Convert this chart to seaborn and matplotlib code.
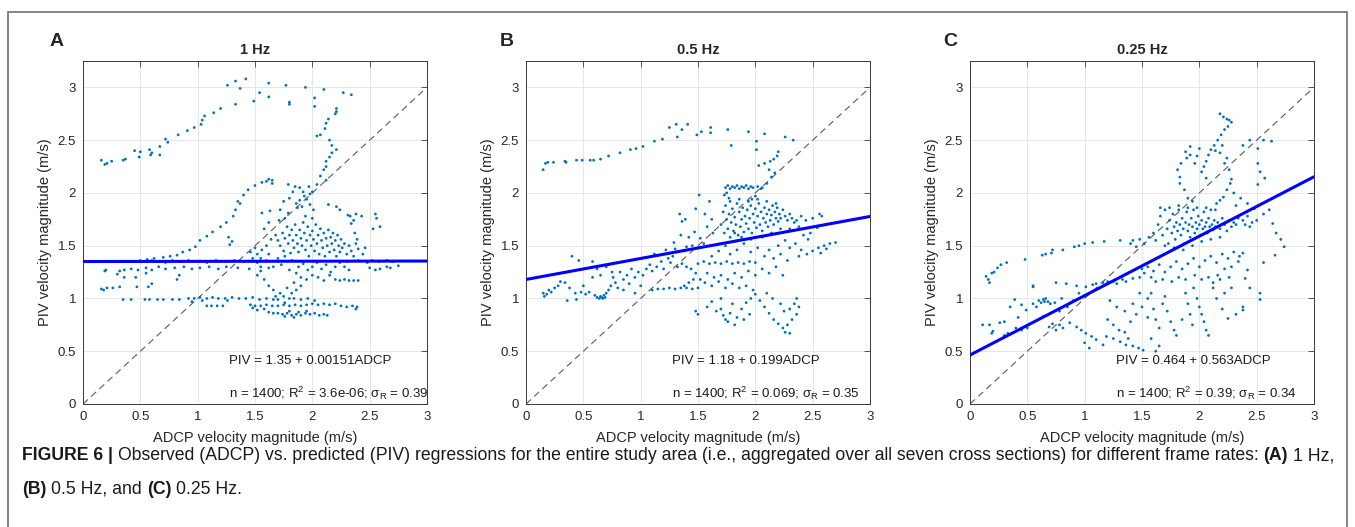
import matplotlib
matplotlib.use("Agg")
import matplotlib.pyplot as plt
import matplotlib.font_manager as fm
from matplotlib.patches import Rectangle
import seaborn as sns
import pandas as pd

# ---------------- data ----------------
panel_letters = ["A", "B", "C"]
panel_titles = ["1 Hz", "0.5 Hz", "0.25 Hz"]
intercepts = [1.35, 1.18, 0.464]
slopes = [0.00151, 0.199, 0.563]
eq_texts = ["PIV = 1.35 + 0.00151ADCP", "PIV = 1.18 + 0.199ADCP", "PIV = 0.464 + 0.563ADCP"]
stat_texts = ["n = 1400; R$^2$ = 3.6e-06; $\\sigma_{\\rm R}$ = 0.39",
              "n = 1400; R$^2$ = 0.069; $\\sigma_{\\rm R}$ = 0.35",
              "n = 1400; R$^2$ = 0.39; $\\sigma_{\\rm R}$ = 0.34"]
tick_vals = [0, 0.5, 1, 1.5, 2, 2.5, 3]
tick_labels = ["0", "0.5", "1", "1.5", "2", "2.5", "3"]
x_label = "ADCP velocity magnitude (m/s)"
y_label = "PIV velocity magnitude (m/s)"

pts_1hz = [
    (0.16,2.31),(0.19,2.27),(0.21,2.28),(0.25,2.30),(0.35,2.31),(0.37,2.32),(0.45,2.40),(0.49,2.34),(0.50,2.39),(0.58,2.41),
    (0.59,2.36),(0.60,2.38),(0.67,2.44),(0.67,2.36),(0.72,2.51),(0.74,2.48),(0.83,2.55),(0.91,2.59),(0.97,2.62),(1.03,2.65),
    (1.04,2.69),(1.06,2.73),(1.14,2.76),(1.20,2.80),
    (1.26,3.02),(1.33,3.06),(1.33,2.84),(1.37,2.99),(1.42,3.08),(1.49,2.87),(1.54,2.95),(1.62,3.04),(1.62,2.91),(1.77,3.02),
    (1.80,2.86),(1.80,2.84),(1.94,3.00),(2.02,2.90),(2.02,2.82),(2.10,2.98),(2.27,2.95),(2.34,2.93),
    (2.21,2.80),(2.21,2.77),(2.20,2.75),(2.14,2.70),(2.12,2.66),(2.11,2.61),(2.04,2.54),(2.07,2.55),(2.15,2.50),(2.17,2.45),
    (2.21,2.41),(2.17,2.38),(2.15,2.34),(2.12,2.30),(2.12,2.25),(2.10,2.22),(2.07,2.16),(2.12,2.12),(2.04,2.08),(2.00,2.01),(1.98,1.99),
    (0.56,1.37),(0.62,1.38),(0.70,1.39),(0.76,1.40),(0.82,1.41),(0.87,1.44),(0.93,1.46),(0.98,1.49),(1.02,1.55),(1.08,1.59),
    (1.13,1.63),(1.20,1.68),(1.25,1.72),(1.31,1.78),(1.33,1.84),(1.35,1.92),(1.37,1.90),(1.40,1.98),(1.44,2.03),(1.50,2.07),
    (1.56,2.10),(1.62,2.13),(1.65,2.12),(1.65,2.09),(1.60,2.11),(1.27,1.58),(1.28,1.51),(1.30,1.54),
    (1.79,2.08),(1.85,2.06),(1.89,2.05),(1.92,2.01),(1.97,2.06),(1.83,2.01),(1.80,1.95),(1.75,1.92),(1.72,1.84),(1.71,1.74),
    (1.79,1.81),(1.76,1.76),(1.89,1.93),(1.91,1.87),(1.98,1.89),(2.01,1.84),(1.94,1.78),(2.00,1.76),(1.93,1.97),(1.95,1.94),
    (1.86,1.90),(1.87,1.86),
    (2.14,1.89),(2.21,1.87),(2.24,1.84),(2.33,1.78),(2.36,1.74),(2.43,1.78),(2.55,1.80),(2.56,1.76),(2.59,1.68),(2.53,1.66),
    (2.34,1.71),(2.37,1.62),(2.39,1.56),(2.46,1.48),(2.31,1.79),(2.38,1.80),(1.63,1.83),(1.56,1.81),(1.58,1.66),(1.62,1.72),
    (1.68,1.60),(1.70,1.55),(1.72,1.50),(1.74,1.62),(1.75,1.45),(1.76,1.57),(1.78,1.68),(1.79,1.52),(1.80,1.60),(1.81,1.43),
    (1.82,1.65),(1.83,1.55),(1.84,1.48),(1.85,1.70),(1.86,1.60),(1.87,1.52),(1.88,1.44),(1.89,1.65),(1.90,1.57),(1.91,1.50),
    (1.92,1.72),(1.93,1.62),(1.94,1.46),(1.95,1.55),(1.96,1.68),(1.97,1.40),(1.98,1.60),(1.99,1.50),(2.00,1.64),(2.01,1.56),
    (2.02,1.45),(2.03,1.70),(2.04,1.52),(2.05,1.60),(2.06,1.42),(2.07,1.66),(2.08,1.55),(2.09,1.48),(2.10,1.62),(2.11,1.40),
    (2.12,1.57),(2.13,1.50),(2.14,1.65),(2.15,1.44),(2.16,1.58),(2.17,1.52),(2.18,1.62),(2.19,1.46),(2.20,1.55),(2.21,1.40),
    (2.22,1.60),(2.23,1.50),(2.24,1.44),(2.25,1.56),(2.26,1.48),(2.28,1.52),(2.30,1.42),(2.32,1.50),(2.34,1.45),(2.36,1.40),
    (2.40,1.47),(2.44,1.42),(2.38,1.52),
    (1.76,1.40),(1.82,1.36),(1.88,1.30),(1.92,1.33),(1.96,1.27),(2.00,1.30),(2.04,1.34),(2.08,1.28),(2.12,1.32),(2.16,1.25),
    (2.20,1.30),(2.24,1.34),(2.28,1.30),(2.32,1.27),(1.86,1.24),(1.90,1.20),(1.95,1.18),(2.00,1.22),(2.05,1.20),(2.10,1.17),
    (2.15,1.22),(1.80,1.27),(1.84,1.15),(1.78,1.10),(1.82,1.05),(1.86,1.08),(1.90,1.12),(1.75,1.02),(1.80,1.00),(1.72,1.05),
    (1.70,0.99),(1.76,0.96),(1.70,1.38),(1.73,1.32),(1.66,1.30),(1.62,1.42),(1.60,1.50),(1.64,1.56),(1.56,1.46),(1.55,1.38),
    (1.52,1.42),(1.50,1.48),(1.48,1.38),(1.46,1.44),
    (0.50,1.36),(0.55,1.35),(0.60,1.36),(0.66,1.35),(0.72,1.34),(0.78,1.36),(0.85,1.35),(0.92,1.36),(1.00,1.35),(1.08,1.34),
    (1.16,1.36),(1.24,1.35),(1.32,1.36),(1.40,1.35),(1.52,1.34),(1.60,1.36),(2.30,1.35),(2.40,1.36),(2.48,1.34),(2.52,1.36),
    (2.58,1.35),(2.65,1.36),(2.70,1.35),
    (0.19,1.26),(0.20,1.27),(0.32,1.26),(0.36,1.27),(0.42,1.28),(0.48,1.27),(0.55,1.29),(0.60,1.27),(0.66,1.30),(0.72,1.28),
    (0.80,1.29),(0.88,1.30),(0.95,1.28),(1.02,1.29),(1.10,1.30),(1.18,1.28),(1.25,1.30),(1.35,1.29),(1.45,1.28),(1.55,1.30),
    (1.62,1.29),(0.84,1.22),(0.82,1.18),(0.60,1.14),(0.57,1.11),(0.36,1.20),(0.30,1.23),(0.46,1.20),(0.55,1.24),
    (2.50,1.29),(2.55,1.27),(2.59,1.28),(2.65,1.30),(2.75,1.31),(2.68,1.29),
    (2.24,1.17),(2.28,1.18),(2.32,1.17),(2.36,1.17),(2.40,1.17),(2.20,1.18),
    (0.16,1.09),(0.18,1.08),(0.21,1.10),(0.26,1.10),(0.32,1.11),(0.47,1.11),
    (0.35,0.99),(0.42,0.99),(0.54,0.99),(0.58,0.99),(0.65,0.99),(0.70,0.99),(0.78,0.99),(0.84,0.99),(0.92,1.00),(0.97,1.00),
    (1.02,1.01),(1.08,1.00),(1.13,1.01),(1.18,1.00),(1.24,1.00),(1.30,1.01),(1.36,1.00),(1.42,1.00),(1.48,1.01),(1.54,0.99),
    (1.60,1.00),(1.66,0.99),(1.84,1.00),(1.90,0.99),(1.96,1.00),(2.02,0.98),(1.04,0.98),(1.26,0.98),(0.95,0.97),
    (1.08,0.93),(1.12,0.93),(1.17,0.93),(1.22,0.93),(1.46,0.94),(1.50,0.93),(1.55,0.93),(1.60,0.94),(1.65,0.93),(1.70,0.93),
    (1.75,0.94),(1.80,0.93),(1.85,0.94),(1.90,0.93),(1.95,0.94),(2.00,0.95),(2.05,0.94),(2.10,0.95),(2.15,0.94),(2.20,0.95),
    (2.25,0.93),(2.30,0.92),(2.35,0.93),(2.39,0.92),(2.38,0.90),(1.48,0.91),(1.52,0.89),(1.58,0.90),
    (1.62,0.87),(1.66,0.86),(1.70,0.86),(1.74,0.85),(1.78,0.86),(1.82,0.84),(1.86,0.85),(1.90,0.84),(1.94,0.86),(1.98,0.85),
    (2.02,0.86),(2.06,0.84),(2.10,0.85),(2.13,0.84),(1.80,0.88),(1.88,0.87),(1.95,0.88),(1.76,0.83),(1.84,0.82),
    (1.52,1.22),(1.58,1.18),(1.62,1.12),(1.66,1.08),(1.68,1.02),(1.55,1.26),
]

pts_05hz = [
    (0.15,2.22),(0.17,2.28),(0.19,2.29),(0.24,2.29),(0.34,2.30),(0.35,2.29),(0.44,2.31),(0.49,2.31),(0.56,2.31),(0.59,2.31),
    (0.65,2.32),(0.72,2.35),(0.82,2.38),(0.91,2.41),(0.96,2.42),(1.02,2.44),(1.12,2.49),(1.19,2.51),(1.25,2.62),(1.31,2.65),
    (1.32,2.53),(1.36,2.60),(1.41,2.65),(1.49,2.55),(1.53,2.58),(1.61,2.62),(1.61,2.57),(1.76,2.60),(1.79,2.45),(1.94,2.58),
    (2.01,2.49),(2.01,2.41),(2.08,2.56),(2.26,2.53),(2.33,2.50),
    (2.20,2.39),(2.19,2.35),(2.16,2.32),(2.13,2.30),(2.08,2.28),(2.03,2.26),(2.12,2.22),(2.17,2.19),(2.14,2.15),(2.10,2.09),
    (2.06,2.05),(2.00,1.97),(1.97,1.94),
    (1.74,2.05),(1.76,2.07),(1.78,2.04),(1.80,2.06),(1.82,2.05),(1.84,2.07),(1.86,2.04),(1.88,2.06),(1.90,2.05),(1.92,2.07),
    (1.94,2.04),(1.96,2.06),(1.98,2.05),(2.02,2.06),(2.05,2.04),(1.75,2.00),(1.73,1.98),(1.77,1.95),
    (1.51,1.98),(1.60,1.92),(1.48,1.85),(1.56,1.80),(1.34,1.80),(1.36,1.73),(1.39,1.75),(1.29,1.53),(1.30,1.47),(1.35,1.60),
    (1.42,1.58),(1.45,1.50),(1.40,1.49),(1.38,1.45),(1.47,1.63),(1.52,1.57),(1.55,1.52),(1.58,1.68),(1.62,1.75),(1.63,1.62),
    (1.28,1.40),(1.31,1.44),(1.24,1.38),
    (1.70,1.70),(1.72,1.82),(1.73,1.62),(1.74,1.88),(1.75,1.75),(1.76,1.66),(1.77,1.80),(1.78,1.58),(1.79,1.72),(1.80,1.85),
    (1.81,1.64),(1.82,1.77),(1.83,1.70),(1.84,1.90),(1.85,1.60),(1.86,1.82),(1.87,1.68),(1.88,1.75),(1.89,1.86),(1.90,1.63),
    (1.91,1.78),(1.92,1.71),(1.93,1.84),(1.94,1.66),(1.95,1.76),(1.96,1.88),(1.97,1.62),(1.98,1.80),(1.99,1.72),(2.00,1.85),
    (2.01,1.67),(2.02,1.78),(2.03,1.90),(2.04,1.70),(2.05,1.82),(2.06,1.64),(2.07,1.76),(2.08,1.86),(2.09,1.72),(2.10,1.80),
    (2.11,1.68),(2.12,1.84),(2.13,1.74),(2.14,1.79),(2.15,1.88),(2.16,1.70),(2.17,1.82),(2.18,1.76),(2.19,1.86),(2.20,1.73),
    (2.21,1.80),(2.22,1.76),(2.24,1.84),(2.26,1.78),(2.28,1.74),(2.30,1.80),(2.32,1.76),(2.34,1.72),(2.36,1.74),(2.40,1.78),
    (2.44,1.74),(2.50,1.76),(2.56,1.80),(2.58,1.78),(2.54,1.67),(2.48,1.62),(2.46,1.56),(2.42,1.60),
    (1.78,1.92),(1.86,1.94),(1.94,1.92),(2.02,1.94),(2.10,1.92),(2.18,1.90),(1.82,1.62),(1.88,1.58),(1.96,1.56),(2.06,1.58),
    (2.14,1.62),(2.22,1.66),(2.30,1.66),(2.38,1.68),
    (2.35,1.52),(2.40,1.46),(2.45,1.42),(2.50,1.45),(2.55,1.48),(2.60,1.50),(2.65,1.52),(2.70,1.53),(2.57,1.43),(2.62,1.47),
    (2.38,1.40),(2.30,1.48),(2.26,1.55),(2.20,1.50),
    (1.50,1.33),(1.55,1.35),(1.60,1.33),(1.65,1.34),(1.70,1.33),(1.75,1.35),(1.80,1.33),(1.85,1.34),(1.90,1.33),(1.95,1.35),
    (2.00,1.34),(1.62,1.40),(1.68,1.45),(1.74,1.50),(1.78,1.42),(1.84,1.46),(1.90,1.52),(1.96,1.44),(2.02,1.48),(2.08,1.40),
    (2.12,1.46),(2.16,1.38),(2.22,1.42),(2.28,1.36),(1.58,1.24),(1.64,1.20),(1.70,1.22),(1.76,1.18),(1.82,1.24),(1.88,1.20),
    (1.94,1.26),(2.00,1.22),(2.06,1.28),(2.12,1.24),(2.18,1.30),(2.24,1.22),(1.52,1.18),(1.56,1.15),(1.62,1.12),(1.68,1.16),
    (1.74,1.10),(1.80,1.14),(1.86,1.10),(1.92,1.12),(1.98,1.08),
    (1.10,1.08),(1.15,1.09),(1.20,1.09),(1.25,1.10),(1.30,1.09),(1.35,1.10),(1.40,1.10),(1.45,1.09),(1.50,1.10),(1.38,1.12),
    (1.42,1.15),(1.46,1.18),(1.48,1.24),(1.44,1.28),(1.40,1.30),(1.36,1.33),(1.32,1.30),
    (1.48,0.88),(1.50,0.85),(1.58,0.92),(1.62,0.97),(1.66,0.88),(1.70,0.90),(1.72,0.84),(1.74,0.80),(1.76,0.78),(1.78,0.86),
    (1.82,0.75),(1.84,0.82),(1.88,0.90),(1.92,0.96),(1.96,1.00),(2.00,1.04),(2.04,0.98),(2.08,0.92),(2.12,0.86),(2.16,0.80),
    (2.20,0.76),(2.24,0.72),(2.26,0.68),(2.30,0.67),(2.28,0.75),(2.32,0.80),(2.30,0.90),(2.34,0.95),(2.36,1.00),(2.38,0.92),
    (2.36,0.85),(2.15,1.00),(2.10,1.05),(2.22,0.95),(2.25,0.88),(1.95,0.85),(1.90,0.80),(1.80,0.95),(1.70,1.00),
    (0.15,1.05),(0.16,1.02),(0.18,1.04),(0.20,1.08),(0.22,1.06),(0.25,1.10),(0.28,1.12),(0.30,1.16),(0.34,1.15),(0.36,0.98),
    (0.38,1.10),(0.40,1.40),(0.43,1.05),(0.44,0.99),(0.46,1.36),(0.48,1.06),(0.52,1.04),(0.55,1.06),(0.58,1.35),(0.60,1.03),
    (0.62,1.01),(0.64,1.00),(0.65,1.02),(0.66,1.01),(0.67,1.00),(0.68,1.03),(0.69,1.01),(0.70,1.05),(0.72,1.32),(0.72,1.08),
    (0.74,1.12),(0.76,1.20),(0.78,1.15),(0.80,1.10),(0.82,1.25),(0.85,1.18),(0.88,1.22),(0.90,1.14),(0.92,1.28),(0.95,1.20),
    (0.98,1.25),(1.00,1.38),(1.02,1.22),(1.05,1.28),(1.08,1.32),(1.10,1.26),(1.12,1.42),(1.14,1.30),(1.18,1.35),(1.20,1.28),
    (1.22,1.46),(1.26,1.34),(0.70,1.30),(0.75,1.25),(0.65,1.22),(0.62,1.28),(0.58,1.20),(0.50,1.12),(0.85,1.08),(0.95,1.05),
    (1.00,1.12),
]

pts_025hz = [
    (0.14,1.21),(0.16,1.18),(0.17,1.15),(0.19,1.24),(0.21,1.25),(0.24,1.29),(0.27,1.32),(0.32,1.34),
    (0.48,1.37),(0.63,1.41),(0.66,1.42),(0.71,1.43),(0.72,1.46),(0.81,1.46),(0.91,1.49),(0.95,1.50),(1.00,1.52),(1.07,1.53),
    (1.17,1.54),(1.31,1.55),(1.40,1.52),(1.42,1.55),(1.45,1.49),
    (0.11,0.75),(0.17,0.75),(0.19,0.67),(0.20,0.69),(0.26,0.77),(0.30,0.65),(0.33,0.67),(0.35,0.92),(0.39,0.99),(0.42,0.82),
    (0.45,0.94),(0.49,0.89),(0.50,0.72),(0.55,1.11),(0.55,0.95),(0.58,0.92),(0.60,0.98),(0.62,0.96),(0.64,0.99),(0.65,0.97),
    (0.66,1.00),(0.68,0.97),(0.70,0.95),(0.74,0.96),(0.64,0.83),(0.69,0.73),(0.72,0.76),(0.75,0.70),(0.78,0.75),(0.81,0.72),
    (0.87,0.77),(0.93,0.73),(0.97,0.70),(1.01,0.67),(1.06,0.64),(1.10,0.61),(1.16,0.56),(1.00,0.58),(1.04,0.53),(1.19,0.64),
    (1.25,0.62),(1.31,0.59),(1.36,0.56),(1.42,0.55),(1.47,0.53),(1.51,0.51),(1.62,0.50),(1.65,0.55),
    (0.40,0.72),(0.45,0.70),(0.30,0.78),(0.78,0.88),(0.85,0.92),(0.80,1.00),(0.90,0.98),(0.95,1.05),
    (0.55,1.12),(0.75,1.15),(0.84,1.14),(0.93,1.12),(1.01,1.11),(1.07,1.13),(1.16,1.15),(1.25,1.16),(1.33,1.18),(1.42,1.19),
    (1.10,1.14),(1.20,1.16),(1.28,1.14),(1.36,1.16),(1.48,1.20),(1.52,1.24),
    (1.20,0.80),(1.25,0.75),(1.30,0.70),(1.35,0.68),(1.40,0.78),(1.45,0.85),(1.50,0.92),(1.55,1.00),(1.58,1.05),(1.60,0.90),
    (1.62,0.80),(1.65,0.72),(1.68,0.95),(1.70,1.02),(1.72,0.88),(1.75,0.78),(1.78,0.70),(1.80,0.65),(1.42,0.95),(1.48,1.05),
    (1.35,0.88),(1.28,0.92),(1.22,0.98),(1.55,0.82),(1.58,0.62),(1.38,0.62),
    (1.95,1.10),(1.98,1.00),(2.00,0.92),(2.02,0.85),(2.04,0.78),(2.06,0.70),(2.08,0.65),(1.90,0.95),(1.92,0.85),(1.94,0.75),
    (1.88,1.05),(1.85,0.80),
    (2.32,0.85),(2.25,0.81),(2.38,0.89),(2.38,0.92),(2.53,0.99),(2.53,1.05),(2.44,1.10),(2.40,1.19),(2.42,1.27),(2.56,1.34),
    (2.66,1.41),(2.74,1.49),(2.71,1.56),(2.67,1.62),(2.64,1.71),(2.61,1.84),(2.20,0.90),(2.15,1.00),(2.22,1.05),(2.28,1.10),
    (2.12,1.10),
    (1.50,1.28),(1.55,1.30),(1.60,1.26),(1.65,1.32),(1.70,1.25),(1.75,1.30),(1.80,1.35),(1.85,1.28),(1.90,1.33),(1.95,1.38),
    (2.00,1.30),(2.05,1.36),(2.10,1.40),(2.15,1.34),(2.20,1.42),(2.25,1.38),(2.30,1.44),(2.35,1.40),(2.38,1.43),(2.34,1.35),
    (2.28,1.30),(2.22,1.28),(2.16,1.22),(2.08,1.20),(2.02,1.18),(1.96,1.22),(1.88,1.18),(1.82,1.20),(1.76,1.16),(1.68,1.18),
    (1.62,1.16),(1.58,1.20),(2.12,1.15),(2.18,1.18),(2.26,1.20),
    (1.60,1.62),(1.62,1.55),(1.64,1.70),(1.66,1.78),(1.68,1.60),(1.70,1.84),(1.72,1.66),(1.73,1.52),(1.74,1.74),(1.76,1.62),
    (1.77,1.80),(1.78,1.68),(1.79,1.56),(1.80,1.72),(1.81,1.64),(1.82,1.84),(1.83,1.70),(1.84,1.60),(1.85,1.76),(1.86,1.66),
    (1.87,1.52),(1.88,1.72),(1.89,1.82),(1.90,1.64),(1.91,1.70),(1.92,1.58),(1.93,1.76),(1.94,1.68),(1.95,1.84),(1.96,1.62),
    (1.97,1.72),(1.98,1.66),(1.99,1.78),(2.00,1.70),(2.01,1.60),(2.02,1.74),(2.03,1.66),(2.04,1.82),(2.05,1.68),(2.06,1.72),
    (2.07,1.62),(2.08,1.76),(2.09,1.68),(2.10,1.84),(2.11,1.70),(2.12,1.65),(2.13,1.74),(2.14,1.68),(2.16,1.72),(2.18,1.66),
    (2.20,1.76),(2.22,1.70),(2.24,1.64),(2.26,1.74),(2.28,1.68),(2.30,1.72),(2.32,1.70),(2.34,1.76),(2.38,1.74),(2.42,1.78),
    (2.46,1.72),(2.50,1.74),(2.40,1.70),(2.44,1.68),
    (1.66,1.86),(1.74,1.86),(1.82,1.88),(1.90,1.86),(1.98,1.86),(2.06,1.86),(2.14,1.84),(1.70,1.50),(1.78,1.48),(1.86,1.46),
    (1.94,1.50),(2.02,1.54),(2.10,1.56),(2.18,1.58),(1.56,1.58),(1.52,1.52),(1.48,1.56),
    (2.18,2.75),(2.21,2.72),(2.24,2.70),(2.26,2.69),(2.28,2.67),(2.25,2.63),(2.22,2.60),(2.19,2.55),(2.16,2.50),(2.13,2.45),
    (2.10,2.41),(2.08,2.36),(2.06,2.30),(2.04,2.25),(2.14,2.40),(2.18,2.38),(2.20,2.45),(2.24,2.33),(2.22,2.28),(2.26,2.22),
    (2.00,2.42),(1.98,2.35),(1.96,2.28),(2.02,2.20),(2.06,2.14),
    (1.81,2.22),(1.83,2.15),(1.84,2.28),(1.89,2.33),(1.92,2.36),(1.88,2.39),(1.92,2.44),(1.83,2.09),(1.87,2.03),(1.90,1.95),
    (1.94,1.92),
    (2.38,2.45),(2.44,2.50),(2.51,2.42),(2.56,2.50),(2.63,2.49),(2.51,2.28),(2.53,2.20),(2.51,2.08),(2.57,2.14),
    (2.21,1.96),(2.24,2.03),(2.27,2.09),(2.28,2.13),(2.18,1.93),(2.15,1.90),(2.30,2.00),(2.36,1.95),(2.42,1.90),(2.32,1.88),
    (2.56,1.80),(2.48,1.85),
]

caption_line1 = [("FIGURE 6 |", "bold"),
                 ("Observed (ADCP) vs. predicted (PIV) regressions for the entire study area (i.e., aggregated over all seven cross sections) for different frame rates:", "normal"),
                 ("(A)", "bold"), ("1 Hz,", "normal")]
caption_line2 = [("(B)", "bold"), ("0.5 Hz, and", "normal"), ("(C)", "bold"), ("0.25 Hz.", "normal")]

# ---------------- style ----------------
sns.set_style("white")
plt.rcParams["font.family"] = ["Liberation Sans", "DejaVu Sans"]
plt.rcParams["mathtext.fontset"] = "custom"
plt.rcParams["mathtext.rm"] = "Liberation Sans"
plt.rcParams["mathtext.it"] = "Liberation Sans:italic"
plt.rcParams["mathtext.default"] = "regular"

W, H = 1355, 527
fig = plt.figure(figsize=(W / 100, H / 100), dpi=100)
fig.patch.set_facecolor("white")

# outer frame
fig.add_artist(Rectangle((8 / W, -0.05), (1347 - 8) / W, 1 - 12 / H + 0.05, fill=False,
                         edgecolor="#7a7a7a", lw=1.3, transform=fig.transFigure))

axes_left_px = [83, 526, 970]
axes_w_px = 344
ax_top_px, ax_bot_px = 61, 404
letter_x_px = [57, 507, 950]
all_pts = [pts_1hz, pts_05hz, pts_025hz]
dot_color = "#0072BD"
spine_color = "#3a3a3a"

for i in range(3):
    l = axes_left_px[i]
    ax = fig.add_axes([l / W, 1 - ax_bot_px / H, axes_w_px / W, (ax_bot_px - ax_top_px) / H])
    df = pd.DataFrame(all_pts[i], columns=["ADCP", "PIV"])
    ax.plot([0, 3], [0, 3], color="#5a5a5a", lw=0.8, ls=(0, (6, 4)), zorder=2)
    sns.scatterplot(data=df, x="ADCP", y="PIV", ax=ax, s=4, color=dot_color,
                    linewidth=0, edgecolor="none", zorder=3)
    fit = pd.DataFrame({"x": [0, 3], "y": [intercepts[i], intercepts[i] + 3 * slopes[i]]})
    sns.lineplot(data=fit, x="x", y="y", ax=ax, color="#0000FF", lw=2.2, zorder=4)
    ax.set_xlim(0, 3)
    ax.set_ylim(0, 3.25)
    ax.set_xticks(tick_vals)
    ax.set_xticklabels(tick_labels)
    ax.set_yticks(tick_vals)
    ax.set_yticklabels(tick_labels)
    ax.grid(True, color="#e6e6e6", lw=0.7)
    ax.set_axisbelow(True)
    ax.tick_params(direction="in", top=True, right=True, length=4, width=0.6,
                   color=spine_color, labelsize=9.5, labelcolor="#262626", pad=5)
    for sp in ax.spines.values():
        sp.set_color(spine_color)
        sp.set_linewidth(0.7)
        sp.set_visible(True)
    ax.set_xlabel(x_label, fontsize=10.5, color="#262626")
    ax.set_ylabel(y_label, fontsize=10.5, color="#262626")
    ax.xaxis.set_label_coords(0.5, -0.078)
    ax.yaxis.set_label_coords(-0.090, 0.5)
    ax.text(0.5, (ax_bot_px - 50) / (ax_bot_px - ax_top_px), panel_titles[i], transform=ax.transAxes,
            ha="center", va="center", fontsize=10.5, fontweight="bold")
    ax.text(1.27, 0.41, eq_texts[i], fontsize=9.5, ha="left", va="center", color="#1a1a1a", zorder=5)
    ax.text(1.27, 0.10, stat_texts[i], fontsize=9.5, ha="left", va="center", color="#1a1a1a", zorder=5)
    fig.text(letter_x_px[i] / W, 1 - 42 / H, panel_letters[i], fontsize=14, fontweight="bold",
             ha="center", va="center")

# ---------------- caption ----------------
names = {f.name for f in fm.fontManager.ttflist}
cap_family = ["Liberation Sans Narrow", "DejaVu Sans"] if "Liberation Sans Narrow" in names else ["Liberation Sans", "DejaVu Sans"]
renderer = fig.canvas.get_renderer()


def seg_width(s, w, size):
    t = fig.text(0, 0, s, fontsize=size, fontweight=w, family=cap_family)
    bb = t.get_window_extent(renderer)
    t.remove()
    return bb.width


def space_width(size):
    return seg_width("a a", "normal", size) - seg_width("aa", "normal", size)


def line_width(segs, size):
    total = sum(seg_width(s, w, size) for s, w in segs)
    return total + space_width(size) * (len(segs) - 1)


target = 1335 - 22
base = 11.0
size = base * target / line_width(caption_line1, base)


def draw_line(segs, y_px, size):
    x = 22.0
    sp = space_width(size)
    for s, w in segs:
        fig.text(x / W, 1 - y_px / H, s, fontsize=size, fontweight=w, family=cap_family,
                 ha="left", va="center", color="#1a1a1a")
        x += seg_width(s, w, size) + sp


draw_line(caption_line1, 456, size)
draw_line(caption_line2, 489, size)

fig.savefig("out.png", dpi=100, facecolor="white")
